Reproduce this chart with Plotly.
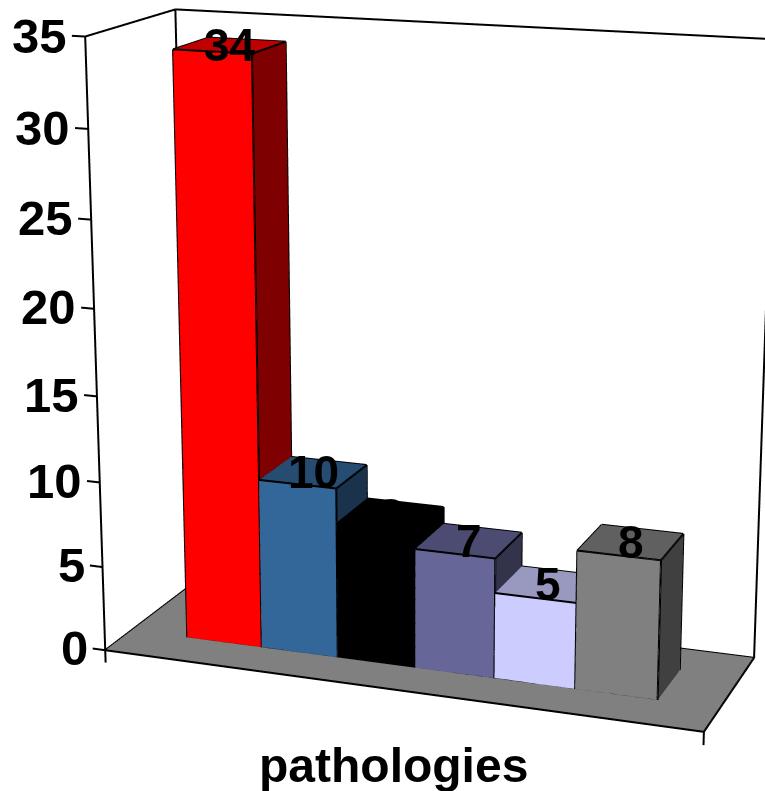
import numpy as np
import plotly.graph_objects as go

# ---- data ----
axis_title = "pathologies"
values = [34, 10, 8, 7, 5, 8]
colors = ["#FF0000", "#336699", "#000000", "#666699", "#CCCCFF", "#808080"]
z_ticks = [0, 5, 10, 15, 20, 25, 30, 35]

# ---- chart box, in axis units (bars stand at n-0.5..n+0.5 and 0..1 in depth) ----
floor_x = [-1.256, 6.242]
floor_y = [-0.739, 1.694]
z_max = 35
bar_front, bar_back = 0.0, 1.0

# ---- camera of the scene ----
eye0 = np.array([1.4091, -3.9195, 1.1044])
center0 = np.array([-0.0231, -0.0193, -0.038])
up = np.array([-0.0903, 0.2493, 0.9642])
aspect0 = np.array([0.9986, 0.3267, 1.0])

# The scene camera has a fixed 45 degree view, so the canvas is taller than the
# window and is shifted so that its centre sits where the reference's view centre is.
canvas_w, canvas_h = 821, 2273
canvas_left, canvas_top = 0, -756

# axis ranges leave room for the tick marks, which are clipped at the range
x_range = [-1.9, 6.6]
y_range = [-0.9, 1.8]
z_range = [-1.5, 36.0]

mid0 = np.array([sum(floor_x)/2, sum(floor_y)/2, z_max/2])
span0 = np.array([floor_x[1]-floor_x[0], floor_y[1]-floor_y[0], z_max])
mid1 = np.array([sum(x_range)/2, sum(y_range)/2, sum(z_range)/2])
span1 = np.array([x_range[1]-x_range[0], y_range[1]-y_range[0], z_range[1]-z_range[0]])
shift = aspect0*(mid0-mid1)/span0
E = eye0+shift
C = center0+shift
A = aspect0*span1/span0


def shade(hex_color, k):
    rgb = [int(hex_color[i:i+2], 16) for i in (1, 3, 5)]
    return "rgb(%d,%d,%d)" % tuple(int(c*k) for c in rgb)


def box(x0, x1, y0, y1, h):
    return ([x0, x1, x1, x0, x0, x1, x1, x0], [y0, y0, y1, y1, y0, y0, y1, y1], [0, 0, 0, 0, h, h, h, h])


fig = go.Figure()
flat = dict(ambient=1, diffuse=0, specular=0, roughness=1, fresnel=0)
fx0, fx1 = floor_x
fy0, fy1 = floor_y
fig.add_trace(go.Mesh3d(x=[fx0, fx1, fx1, fx0], y=[fy0, fy0, fy1, fy1], z=[0, 0, 0, 0],
                        i=[0, 0], j=[1, 2], k=[2, 3], color="#808080", lighting=flat, flatshading=True, hoverinfo="skip"))

lx, ly, lz = [], [], []


def seg(a, b):
    lx.extend([a[0], b[0], None])
    ly.extend([a[1], b[1], None])
    lz.extend([a[2], b[2], None])


for n, (val, col) in enumerate(zip(values, colors)):
    x, y, z = box(n-.5, n+.5, bar_front, bar_back, val)
    fig.add_trace(go.Mesh3d(x=x, y=y, z=z,
        i=[0, 0, 4, 4, 1, 1, 3, 3, 0, 0], j=[1, 5, 5, 6, 2, 6, 2, 6, 3, 7], k=[5, 4, 6, 7, 6, 5, 6, 7, 7, 4],
        facecolor=[col, col, shade(col, .75), shade(col, .75), shade(col, .5), shade(col, .5), col, col, col, col],
        lighting=flat, flatshading=True, hoverinfo="skip"))
    pts = list(zip(x, y, z))
    for a, b2 in [(0, 1), (1, 5), (5, 4), (4, 0), (5, 6), (6, 7), (7, 4), (1, 2), (2, 6)]:
        seg(pts[a], pts[b2])

for a, b2 in [((fx0, fy0, 0), (fx1, fy0, 0)), ((fx1, fy0, 0), (fx1, fy1, 0)), ((fx1, fy1, 0), (fx0, fy1, 0)),
              ((fx0, fy1, 0), (fx0, fy0, 0)), ((fx0, fy0, 0), (fx0, fy0, z_max)), ((fx0, fy0, z_max), (fx0, fy1, z_max)),
              ((fx0, fy1, z_max), (fx0, fy1, 0)), ((fx0, fy1, z_max), (fx1, fy1, z_max)), ((fx1, fy1, z_max), (fx1, fy1, 0))]:
    seg(a, b2)
tick_dx = 0.17
tick_dz = 0.75
for tk in z_ticks:
    seg((fx0-tick_dx, fy0, tk), (fx0, fy0, tk))
seg((fx0, fy0, 0), (fx0, fy0, -tick_dz))
seg((fx1, fy0, 0), (fx1, fy0, -tick_dz))
fig.add_trace(go.Scatter3d(x=lx, y=ly, z=lz, mode="lines", line=dict(color="black", width=4), hoverinfo="skip"))

tick_font = dict(family="Liberation Sans", size=49, color="black", weight="bold")
label_font = dict(family="Liberation Sans", size=46, color="black", weight="bold")
title_font = dict(family="Liberation Sans", size=48, color="black", weight="bold")
ann = [dict(x=fx0-0.21, y=fy0, z=tk, text=str(tk), showarrow=False, xanchor="right", yanchor="middle", font=tick_font)
       for tk in z_ticks]
ann += [dict(x=n, y=(bar_front+bar_back)/2, z=val, text=str(val), showarrow=False, xanchor="center", yanchor="middle", font=label_font)
        for n, val in enumerate(values)]
fig.update_layout(
    width=canvas_w, height=canvas_h, margin=dict(l=0, r=0, t=0, b=0), showlegend=False, paper_bgcolor="white",
    scene=dict(
        domain=dict(x=[0, 1], y=[0, 1]),
        xaxis=dict(visible=False, range=x_range), yaxis=dict(visible=False, range=y_range),
        zaxis=dict(visible=False, range=z_range),
        aspectmode="manual", aspectratio=dict(x=A[0], y=A[1], z=A[2]),
        camera=dict(eye=dict(x=E[0], y=E[1], z=E[2]), center=dict(x=C[0], y=C[1], z=C[2]),
                    up=dict(x=up[0], y=up[1], z=up[2]), projection=dict(type="perspective")),
        annotations=ann),
    annotations=[dict(x=(393-canvas_left)/canvas_w, y=1-(765-canvas_top)/canvas_h, xref="paper", yref="paper",
                      xanchor="center", yanchor="middle", text=axis_title, showarrow=False, font=title_font)])
post = ("document.body.style.margin='0';document.body.style.overflow='hidden';"
        "var g=document.getElementsByClassName('plotly-graph-div')[0];"
        "g.style.position='absolute';g.style.left='%dpx';g.style.top='%dpx';" % (canvas_left, canvas_top))
fig.write_html("out.html", post_script=post, config=dict(displayModeBar=False))
